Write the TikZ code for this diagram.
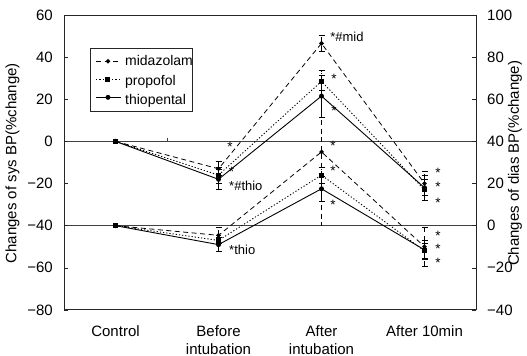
\documentclass[tikz,border=0pt]{standalone}
\usepackage{fontspec}
\setmainfont{Liberation Sans}
\usetikzlibrary{positioning,shapes.geometric,arrows.meta}

\begin{document}
\begin{tikzpicture}[
    x=103pt, y=2.107pt,
    every node/.style={font=\fontsize{15}{18}\selectfont, inner sep=0pt},
    frame/.style={line width=0.9pt, black!85},
    refline/.style={line width=0.6pt, black!75},
    mid/.style={line width=0.8pt, dash pattern=on 5pt off 3.5pt},
    pro/.style={line width=0.9pt, dash pattern=on 1.2pt off 2pt},
    thio/.style={line width=0.9pt},
    mkmid/.style={diamond, fill, minimum size=5pt},
    mkpro/.style={rectangle, fill, minimum size=5pt},
    mkthio/.style={circle, fill, minimum size=5pt},
    errbar/.style={{Bar[width=6pt,line width=0.7pt]}-{Bar[width=6pt,line width=0.7pt]}},
    ast/.style={font=\fontsize{13.5}{14}\selectfont, text height=0.72em, text depth=-0.42em},
    note/.style={font=\fontsize{13}{13}\selectfont, anchor=west},
]
\useasboundingbox (-0.1214,-101.8) rectangle (4.995,67.1);

% Frame, reference lines and ticks
\draw[frame] (0.5,-80) rectangle (4.5,60);
\draw[refline] (0.5,0) -- (4.5,0);
\draw[refline] (0.5,-40) -- (4.5,-40);
\draw[refline] (1.5,0) -- ++(0,1.4);
\foreach \v/\t in {60/60, 40/40, 20/20, 0/0, -20/−20, -40/−40, -60/−60, -80/−80} {
    \draw[frame, line width=0.6pt] (0.5,\v) -- ++(4pt,0);
    \node[anchor=east] (ly\t) at ([xshift=-11pt]0.5,\v) {\t};
}
\foreach \v/\t in {60/100, 40/80, 20/60, 0/40, -20/20, -40/0, -60/−20, -80/−40} {
    \draw[frame, line width=0.6pt] (4.5,\v) -- ++(-4pt,0);
    \node[anchor=west] (ry\t) at ([xshift=11pt]4.5,\v) {\t};
}

% Axis titles
\node[rotate=90] (ytitle) at (0,-10.4) {Changes of sys BP(\%change)};
\node[rotate=90] (y2title) at (4.879,-10.4) {Changes of dias BP(\%change)};
\foreach \k/\t in {1/Control, 2/{Before\\intubation}, 3/{After\\intubation}, 4/After 10min} {
    \node[anchor=north, align=center] (xl\k) at ([yshift=-15pt]\k,-80) {\t};
}

% Error bars
\foreach \s/\k/\lo/\hi in {mid/2/-16.5/-9.5, pro/2/-20/-12, thio/2/-23/-13,
    mid/3/42.7/50.3, pro/3/24/33.7, thio/3/11.4/31.5,
    mid/4/-26/-14, pro/4/-28/-18, thio/4/-28/-16,
    mid/2/-48.5/-40.5, thio/2/-52.3/-45.5,
    pro/3/-20/-12, thio/3/-28.5/-16.5,
    mid/4/-59.5/-40.5, pro/4/-56/-48, thio/4/-55.5/-47} {
    \draw[\s, errbar] (\k,\lo) -- (\k,\hi);
}
\draw[mid] (3,14) -- (3,-40);

% Data series: sys (u) and dias (l)
\foreach \g/\s/\a/\b/\c/\d in {u/mid/0/-13/46.5/-20, u/pro/0/-16/28.5/-23, u/thio/0/-18/21.5/-22,
    l/mid/-40/-44.6/-5/-50, l/pro/-40/-47/-16/-52, l/thio/-40/-49/-22.5/-51.5} {
    \node[mk\s] (\s\g1) at (1,\a) {};
    \node[mk\s] (\s\g2) at (2,\b) {};
    \node[mk\s] (\s\g3) at (3,\c) {};
    \node[mk\s] (\s\g4) at (4,\d) {};
    \draw[\s] (\s\g1.center) -- (\s\g2.center) -- (\s\g3.center) -- (\s\g4.center);
}

% Significance marks
\node[note] (nmid) at (3.083,49.4) {*\#mid};
\node[note] (nthiou) at (2.102,-20.9) {*\#thio};
\node[note] (nthiol) at (2.102,-51.7) {*thio};
\foreach \x/\y [count=\n] in {2.112/-3.3, 2.126/-14.8, 3.121/29.4, 3.121/13.8,
    3.112/-2.8, 3.112/-14.7, 3.112/-30.8,
    4.131/-15.2, 4.131/-22.3, 4.131/-29.9, 4.131/-45.2, 4.131/-51.6, 4.131/-58.2} {
    \node[ast] (ast\n) at (\x,\y) {*};
}

% Legend
\draw[frame, line width=0.7pt] (0.752,44.1) rectangle (1.743,14.2);
\foreach \s/\t/\y/\b in {mid/midazolam/38.0/36.1, pro/propofol/29.4/26.6, thio/thiopental/20.9/17.6} {
    \coordinate (\s a) at (0.813,\y);
    \coordinate (\s b) at (1.053,\y);
    \draw[\s] (\s a) -- (\s b);
    \node[mk\s] (\s key) at (0.927,\y) {};
    \node[anchor=base west, font=\fontsize{14}{14}\selectfont] (\s txt) at (1.092,\b) {\t};
}

\end{tikzpicture}
\end{document}
